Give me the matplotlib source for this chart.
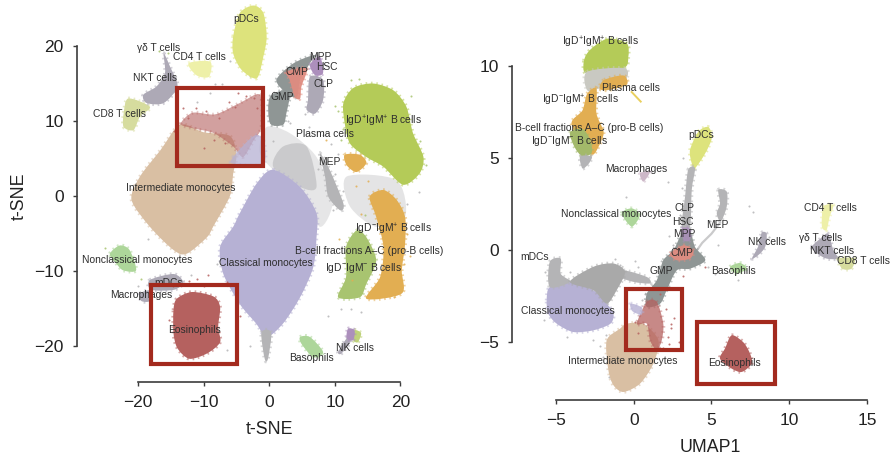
import matplotlib
matplotlib.use("Agg")
import matplotlib.pyplot as plt
from matplotlib.path import Path
from matplotlib.patches import PathPatch, Rectangle

plt.rcParams['font.family'] = ['Liberation Sans', 'DejaVu Sans']
plt.rcParams['mathtext.fontset'] = 'custom'
plt.rcParams['mathtext.rm'] = 'Liberation Sans'
plt.rcParams['mathtext.default'] = 'regular'

# ---------- t-SNE cluster outlines ----------
t_haze_centre = [(-.4,9.2),(3.1,8.4),(7.2,5.2),(9.7,-.5),(7.7,-4.1),(4.7,1.2),(.6,3.5),(-1.5,6)]
t_haze_b = [(11.8,2.6),(19.4,2.1),(20.7,-2.8),(16.3,-4.1),(12.3,-1.4)]
t_grey_centre = [(2.1,6.6),(5.7,6.6),(7.2,1.2),(4.7,1.2),(.6,3.9)]
t_intermediate = [(-13.6,9.5),(-10,8.5),(-6,8),(-5,5.5),(-5.5,3),(-6,0),(-8.5,-4),(-9.5,-5.5),(-12.6,-7.7),(-14.6,-7.2),(-18.2,-4.1),(-21,-.5),(-19.7,2.6),(-16.6,6.1)]
t_classical = [(.6,3.5),(4.7,1.2),(7.2,-2.3),(7.2,-5.5),(6.7,-9.5),(4.7,-13.5),(2.1,-17),(-.4,-18.8),(-2,-17),(-4.5,-14.4),(-7,-10.4),(-7.5,-6.8),(-5.5,-4.1),(-4.5,-2.3),(-1.9,1.7)]
t_tail = [(-1.2,-18.2),(.3,-18.2),(-.2,-21.7),(-.7,-21.7)]
t_box_red = [(-13.5,9.6),(-11.7,11.1),(-8.2,10.9),(-4.5,12.4),(-1.4,13.5),(-1.2,9.2),(-2.4,7.4),(-4,5.2),(-5.5,6.6),(-8.5,8.4),(-11.5,9)]
t_box_lav = [(-5.5,5.2),(-2.4,8),(-.9,7.5),(-.9,4.3),(-5.5,4.3)]
t_igd_pp = [(11.3,12.4),(12.8,14.4),(15.8,15),(18.9,14.1),(20.9,11.9),(21.9,8.4),(23.5,5.2),(22.9,3),(20.4,1.5),(17.4,3.9),(14.8,5.2),(12.3,7),(11.5,9.7)]
t_igd_mp = [(15.3,-.1),(17.4,.8),(19.4,-.5),(20.7,-2.8),(20.7,-6.4),(20.2,-9.9),(20.2,-13),(14.8,-13.7),(16.9,-10.8),(17.4,-6.8),(16.3,-2.8)]
t_orange_small = [(11.5,5.5),(13.8,5.5),(14.8,4.4),(13.3,3.2),(11.8,4.1)]
t_igd_mm = [(13.3,-4.6),(14.8,-5.5),(16.3,-8.6),(14.8,-11.7),(13.8,-13.5),(10.5,-13.5),(11.7,-10.8),(11.7,-6.8)]
t_pdc = [(-5.5,21.3),(-4.5,24.4),(-2.4,25.4),(-.9,24.4),(-.4,21.2),(-.9,18.6),(-1.9,15.7),(-4.2,16.8),(-5.5,19)]
t_cd4 = [(-12.3,17.7),(-9,17.9),(-9.2,15.9),(-11.1,16.1)]
t_cd8 = [(-21.5,13),(-18.2,11.9),(-19.7,10.6),(-20.7,8.8),(-22.2,9.2),(-22.2,11)]
t_nkt = [(-16.1,19),(-15.1,17.2),(-14,14.6),(-16.1,12.4),(-18.7,12.4),(-19.2,13.5),(-17.2,14.6),(-15.9,16.4)]
t_gmp = [(.1,13.2),(3.1,14.1),(2.6,11),(2.1,9.5),(.1,9.7)]
t_cmp_grey = [(1.1,15.5),(3.7,17.7),(6.9,18.8),(6.2,17.7),(4.7,15.5),(4.2,13.2),(2.6,13.7)]
t_cmp = [(2.6,16.6),(5.7,17),(4.9,14.6),(4.7,13),(3.9,13.2),(3.1,15.5)]
t_mpp = [(6.2,17.5),(7.7,18.6),(8.2,16.4),(7,16.1)]
t_clp = [(6.2,15.9),(8.2,15.5),(8.2,12.8),(7,11),(5.7,11.5),(5.9,12.8)]
t_mep = [(7.7,5.7),(9.2,3.5),(11.3,-1),(10.8,-1.9),(9,-.1),(8.5,2.6)]
t_nonclassical = [(-24.3,-7.7),(-22.8,-6.6),(-21.3,-7.2),(-20.3,-9.9),(-22.3,-9.9),(-23.5,-8.8)]
t_mdc = [(-18.2,-11.2),(-14.6,-10.4),(-13.1,-11.5),(-14.5,-12.5),(-18,-12.5)]
t_macrophage = [(-19.7,-13),(-18.2,-12.6),(-18.2,-14),(-19.5,-14)]
t_eos = [(-14.6,-15.2),(-14.1,-13.7),(-11.8,-12.8),(-8.5,-13.4),(-7.5,-14.8),(-7.8,-17.5),(-7.5,-19.5),(-9.5,-21),(-12.2,-21.7),(-14,-20.3),(-14.6,-18.3)]
t_baso = [(4.7,-18.8),(6.2,-18.8),(8.2,-20.8),(6.7,-21.5),(4.9,-19.7)]
t_nk_purple = [(12,-17.7),(13,-17.9),(12.8,-19.2),(11.8,-19)]
t_nk_green = [(13,-17.9),(14,-18.3),(13.5,-19.5),(12.8,-19.2)]
t_nk_grey = [(10.5,-20.8),(11.8,-19),(12.4,-19.4),(11,-21)]
# scattered cells read by eye
t_grey_dots_x = [1.5,3.2,.5,6.1,8.2,9.4,5.5,2.8,-1,7.4,10,10.5,11.2,9.7,6.8,3.9,-3,-4.8,-7.2,-9,-11,-6,-8.3,-2.6,12.5,14,11,21,22.8,-12,-8,-16.5,-20,-18.5,-3,-6.5,9,4.5]
t_grey_dots_y = [11.5,9.7,7.3,9.2,8.2,7,11,10,12,3.6,3,5.6,.7,-1.8,-4.5,-7,16,14.5,14.9,13.7,12.6,18,15,16.8,-15,-15.5,-15,-1,.5,-10.5,-9,-11,-12,-5.7,-20,-20.5,-16,-21.8]
t_red_dots_x = [-13.2,-12.4,-11.1,-9.6,-7.7,-6.1,-5.3,-3.6,-2.4,-1.9,-1.2,-14.5,-10,-8.5,-4.7,-6.8,-12.3,-11,-9.3,-10,-6.5,-4.5,-15.3,-14.7]
t_red_dots_y = [11.7,10.4,11.8,11.3,10.4,12.6,11.9,13.3,13.1,11.7,12.9,8.7,6.4,7.5,13.7,7.1,-11.3,-11,-10.5,-12,-11.5,-16,-16.5,-12]
t_orange_dots_x = [13.2,15,20.5,21,14,19,12.6,10.6,21.5,8.7]
t_orange_dots_y = [1.3,2,-9,-5,-2.4,-13.5,-11.2,-5.7,-8,7.5]
t_green_dots_x = [10.5,10.9,11.2,12.4,23.9,23,21.6,13.7,10,14.6,-16.8,-15.5,-25,-19.5]
t_green_dots_y = [11.3,7.5,8.9,15.5,4.2,7.3,13.3,15.6,12,-2.5,19.4,19.1,-6.9,-11]

# ---------- UMAP cluster outlines ----------
u_igd_pp = [(-3.2,10.3),(-2.8,10.9),(-1.7,11.5),(-.45,11.25),(-.35,10.5),(-.66,9.9),(-3,9.6)]
u_b_grey = [(-3,9.7),(-.6,9.9),(-.56,9.26),(-2.2,8.8),(-3,8.7)]
u_orange_top = [(-1.9,9.26),(-.66,9.5),(-.45,9),(-1.7,8.7),(-2.2,8.8)]
u_igd_mp = [(-3,8.5),(-2.4,8.8),(-2.4,7.45),(-1.95,6.5),(-2.06,6),(-2.6,5.2),(-3.2,5.6),(-4,6.9),(-3.3,7.6)]
u_igd_mm = [(-4.1,6.4),(-3.3,6.6),(-2.8,6),(-2.7,5.3),(-3.3,5.1),(-3.8,5.6)]
u_b_tail = [(-3.45,5.1),(-2.7,5.1),(-2.9,4.7),(-3.3,4.45)]
u_pdc = [(4.16,6.45),(4.8,6.7),(5.02,6.1),(4.6,5.27),(3.94,4.46),(3.73,4.73),(3.62,5.45)]
u_strand = [(3.5,4.37),(3.94,4.46),(3.73,3.28),(3.62,1.29),(3.09,1.29),(3.3,2.9)]
u_macrophage = [(.4,4.18),(1.05,4.28),(.62,3.73)]
u_mep = [(5.44,3.28),(5.98,3.19),(5.98,2.37),(5.6,1.56),(5.34,2),(5.55,2.55)]
u_cd4 = [(12.2,2.37),(12.84,2.46),(12.6,1.83),(12.4,1.1),(12.1,1.3)]
u_nonclassical = [(-.77,2.01),(-.13,2.28),(.4,1.92),(-.13,1.29)]
u_nk = [(8.23,.95),(8.55,.9),(8.45,.18),(8,-.27),(7.6,-.45),(8,.2)]
u_baso = [(6.2,-.9),(6.84,-.69),(7.27,-1),(6.6,-1.27)]
u_nkt = [(11.45,.18),(12,.63),(12.5,.9),(12.84,0),(13.16,-.45),(12.4,-.45),(11.8,-.18)]
u_cd8 = [(13.16,-.45),(14.2,-.45),(14,-1),(13.4,-1)]
u_centre = [(1.9,-.54),(2.55,0),(3.09,.9),(3.62,1.09),(3.94,.18),(4.6,-.54),(3.62,-1),(2.77,-1.09),(2.12,-2.17),(1.7,-2.9),(.84,-3.08),(.84,-2.35),(1.48,-1.63)]
u_link = [(-.66,-1.09),(.84,-1.45),(1.05,-1.8),(0,-1.72),(-.88,-1.45)]
u_cmp = [(2.34,-.18),(3.19,.27),(3.84,0),(3.62,-.45),(2.77,-.54)]
u_mpp = [(3.09,1.18),(3.62,1.18),(3.62,.55),(3.2,.55)]
u_classical = [(-5.6,-2.72),(-5.4,-2),(-4.1,-1.72),(-2.6,-2.17),(-1.74,-2.9),(-1.3,-3.44),(-1.5,-3.99),(-2.6,-4.35),(-3.9,-4.44),(-4.95,-3.99),(-5.5,-3.44)]
u_mdc = [(-5.4,-.63),(-4.7,-.45),(-4.7,-1.27),(-4.1,-1.72),(-5.4,-2)]
u_grey = [(-4.1,-1.72),(-2.6,-.9),(-1.3,-.72),(-.56,-1.18),(-1.1,-2.17),(-1.74,-2.9),(-2.6,-2.17)]
u_intermediate = [(-1.74,-4.9),(-.88,-4.26),(-.45,-3.99),(.62,-3.99),(1.59,-4.9),(1.26,-6.16),(.4,-7.25),(-.66,-7.7),(-1.3,-7.34),(-1.63,-6.52)]
u_red = [(.84,-2.8),(1.48,-2.8),(1.9,-3.99),(1.8,-4.9),(1.48,-5.43),(1.05,-4.9),(.84,-3.99),(.2,-3.99)]
u_lav = [(-.2,-2.9),(.5,-3.1),(.5,-3.5),(-.1,-3.3)]
u_eos = [(6.3,-4.62),(7.05,-5),(7.48,-5.62),(7.59,-6.16),(6.95,-6.61),(6.3,-6.43),(5.55,-5.89),(5.87,-5.34)]
u_plasma_x = [-.13,.45]
u_plasma_y = [8.6,8.08]
u_mep_strand_x = [5.55,5,4.4,3.9]
u_mep_strand_y = [1.5,.9,.4,-.2]
u_grey_dots_x = [-.9,-1.2,-1.8,-2.2,-2.6,.3,.7,1.2,2.3,2.5,4.8,5.2,5.4,3,2.2,-.5,.1,-5.7,-5.8,-1.6,-2,.5,7.4,7.7,8.7,10.9,11.2,4.9,3.2,-4.3,-4.1,6.7,3.1]
u_grey_dots_y = [-.8,-.5,-4.6,-5.2,-4.9,-.9,-2.4,-2.1,.8,.3,-.9,-1.3,.3,1.9,3.7,2.9,-.6,-1.2,-3.8,-6.9,-5.8,-2.7,2.4,2.1,.7,.8,.7,1.6,5,-4.7,-1.2,-1.6,3.4]
u_red_dots_x = [2.1,2.4,2.2,1.9,.3,.1,1.7,2.9,3.2,4.6,2.4,2.6,2.3]
u_red_dots_y = [-3.2,-4.2,-4.7,-5.3,-4.5,-3.9,-2.4,-5,-1.4,-.9,-4,-3.7,-5.1]

# ---------- labels ----------
IPP = r'IgD$^{+}$IgM$^{+}$ B cells'
IMP = r'IgD$^{-}$IgM$^{+}$ B cells'
IMM = r'IgD$^{-}$IgM$^{-}$ B cells'
PROB = 'B-cell fractions A\u2013C (pro-B cells)'
t_labels = ['pDCs','\u03b3\u03b4 T cells','CD4 T cells','NKT cells','CD8 T cells','MPP','HSC','CMP','CLP','GMP',IPP,'Plasma cells','MEP','Intermediate monocytes',IMP,PROB,IMM,'Nonclassical monocytes','Classical monocytes','mDCs','Macrophages','Eosinophils','NK cells','Basophils']
t_label_x = [-3.6,-16.8,-10.7,-17.4,-22.8,7.8,8.8,4.2,8.3,2,17.4,8.5,9.2,-13.5,18.9,15.2,14.3,-20.1,-.5,-15.4,-19.5,-11.4,13,6.5]
t_label_y = [23.6,19.8,18.5,15.8,11,18.5,17.2,16.6,14.9,13.2,9.9,8.3,4.5,1.1,-4.5,-7.3,-9.6,-8.5,-8.9,-11.6,-13.2,-17.8,-20.2,-21.6]
u_labels = [IPP,'Plasma cells',IMP,PROB,IMM,'pDCs','Macrophages','CD4 T cells','CLP','Nonclassical monocytes','HSC','MEP','MPP','\u03b3\u03b4 T cells','NK cells','CMP','NKT cells','CD8 T cells','mDCs','GMP','Basophils','Classical monocytes','Intermediate monocytes','Eosinophils']
u_label_x = [-2.17,-.17,-3.45,-2.87,-4.14,4.33,.19,12.67,3.24,-1.14,3.19,5.4,3.26,12.03,8.55,3.09,12.73,14.77,-6.39,1.74,6.41,-4.24,-.69,6.47]
u_label_y = [11.3,8.84,8.17,6.67,5.94,6.29,4.42,2.28,2.28,1.97,1.54,1.39,.87,.69,.45,-.13,-.05,-.6,-.36,-1.12,-1.14,-3.32,-6.01,-6.1]

t_xticks = [-20,-10,0,10,20]
t_yticks = [-20,-10,0,10,20]
u_xticks = [-5,0,5,10,15]
u_yticks = [-5,0,5,10]
t_boxes = [(-14,4,13.1,10.4),(-18,-22.4,13.1,10.5)]
u_boxes = [(-.51,-5.43,3.64,3.35),(4.07,-7.25,5.04,3.34)]

TAN,LAV,RED,GREEN,ORANGE,LOWG = '#D9BFA3','#B6B1D4','#B5615F','#B4CB58','#E2AE52','#A8C470'
YEL,PALE,GREY,DGREY,MID,SALMON,PURPLE,LGREEN = '#DDE37C','#EEF0A8','#B4B4B6','#8F9695','#ADA9B6','#E08C80','#AC8FBC','#ADD69A'
BOXC = '#A32A1E'
TXT = '#2E2E2E'
AXC = '#3C3C3C'

W, H = 891, 457
fig = plt.figure(figsize=(W/100, H/100), dpi=100)

def make_ax(px0, px1, py_bottom, py_top, xlim, ylim):
    ax = fig.add_axes([px0/W, 1-py_bottom/H, (px1-px0)/W, (py_bottom-py_top)/H])
    ax.set_xlim(*xlim); ax.set_ylim(*ylim)
    ax.patch.set_alpha(0)
    for s in ['top','right']:
        ax.spines[s].set_visible(False)
    return ax

def blob(ax, pts, color, alpha=1.0, halo=True, z=2):
    # smooth closed outline passing through the read vertices
    n = len(pts)
    verts = [pts[0]]; codes = [Path.MOVETO]
    k = 1/7.0
    for i in range(n):
        p0, p1, p2, p3 = pts[i-1], pts[i], pts[(i+1) % n], pts[(i+2) % n]
        verts += [(p1[0]+(p2[0]-p0[0])*k, p1[1]+(p2[1]-p0[1])*k),
                  (p2[0]-(p3[0]-p1[0])*k, p2[1]-(p3[1]-p1[1])*k), p2]
        codes += [Path.CURVE4]*3
    p = Path(verts, codes)
    if halo:
        ax.add_patch(PathPatch(p, fc='none', ec=color, lw=2.6, ls=(0, (.45, 1.0)), alpha=.55*alpha, zorder=z, clip_on=False))
    ax.add_patch(PathPatch(p, fc=color, ec='none', alpha=alpha, zorder=z, clip_on=False))

def dots(ax, x, y, color, z=3):
    ax.scatter(x, y, s=2.2, c=color, linewidths=0, alpha=.85, zorder=z, clip_on=False)

def finish(ax, xt, yt, labels, lx, ly, boxes):
    for s, t in zip(labels, zip(lx, ly)):
        ax.text(t[0], t[1], s, fontsize=7.4, color=TXT, ha='center', va='center', zorder=4, clip_on=False)
    for (x, y, w, h) in boxes:
        ax.add_patch(Rectangle((x, y), w, h, fc='none', ec=BOXC, lw=3.0, zorder=5, clip_on=False, joinstyle='miter'))
    ax.set_xticks(xt); ax.set_yticks(yt)
    ax.set_xticklabels([str(v).replace('-', '\u2212') for v in xt])
    ax.set_yticklabels([str(v).replace('-', '\u2212') for v in yt])
    ax.spines['left'].set_bounds(min(yt), max(yt))
    ax.spines['bottom'].set_bounds(min(xt), max(xt))
    for s in ['left','bottom']:
        ax.spines[s].set_linewidth(1.2); ax.spines[s].set_color(AXC)
    ax.tick_params(length=3.2, width=1.0, color=AXC, labelsize=12.5, labelcolor='#222222')
    ax.tick_params(axis='x', pad=6.5)
    ax.tick_params(axis='y', pad=6.5)

# ---------- left panel ----------
ax1 = make_ax(77, 430, 382, 5, (-29.31, 24.5), (-24.8, 25.47))
for pts, c, a in [(t_haze_centre, GREY, .32), (t_haze_b, GREY, .35), (t_grey_centre, GREY, .55)]:
    blob(ax1, pts, c, a, halo=False, z=1)
for pts, c in [(t_intermediate, TAN), (t_classical, LAV), (t_tail, GREY), (t_igd_pp, GREEN), (t_igd_mp, ORANGE),
               (t_orange_small, ORANGE), (t_igd_mm, LOWG), (t_pdc, YEL), (t_cd4, PALE), (t_cd8, '#D6DC9E'),
               (t_nkt, MID), (t_cmp_grey, DGREY), (t_gmp, DGREY), (t_clp, MID), (t_mep, GREY), (t_nonclassical, LGREEN),
               (t_mdc, MID), (t_macrophage, MID), (t_eos, RED), (t_baso, LGREEN), (t_nk_green, '#BFD27A'), (t_nk_grey, MID)]:
    blob(ax1, pts, c)
for pts, c, a in [(t_box_red, RED, .6), (t_box_lav, LAV, .75), (t_cmp, SALMON, .95), (t_mpp, PURPLE, 1), (t_nk_purple, PURPLE, 1)]:
    blob(ax1, pts, c, a, z=3)
dots(ax1, t_grey_dots_x, t_grey_dots_y, GREY, z=1.5)
dots(ax1, t_red_dots_x, t_red_dots_y, RED)
dots(ax1, t_orange_dots_x, t_orange_dots_y, ORANGE)
dots(ax1, t_green_dots_x, t_green_dots_y, LOWG)
finish(ax1, t_xticks, t_yticks, t_labels, t_label_x, t_label_y, t_boxes)
ax1.set_xlabel('t-SNE', fontsize=12.8, color='#222222', va='center')
ax1.set_ylabel('t-SNE', fontsize=12.8, color='#222222', va='center')
ax1.xaxis.set_label_coords(.545, -.125)
ax1.yaxis.set_label_coords(-.164, .493)

# ---------- right panel ----------
ax2 = make_ax(512.3, 885, 399.7, 5, (-7.81, 16.16), (-8.12, 13.33))
ax2.plot(u_plasma_x, u_plasma_y, color='#E9CF5E', lw=1.4, zorder=2)
ax2.plot(u_mep_strand_x, u_mep_strand_y, color=GREY, lw=1.6, alpha=.7, zorder=1)
for pts, c in [(u_igd_pp, GREEN), (u_b_grey, '#C9C9C2'), (u_orange_top, ORANGE), (u_igd_mp, ORANGE), (u_igd_mm, '#A3B96A'),
               (u_b_tail, GREY), (u_pdc, YEL), (u_strand, GREY), (u_macrophage, '#CDB8C8'), (u_mep, GREY), (u_cd4, PALE),
               (u_nonclassical, LGREEN), (u_nk, MID), (u_baso, LGREEN), (u_nkt, MID), (u_cd8, '#D6DC9E'), (u_centre, DGREY),
               (u_link, GREY), (u_classical, LAV), (u_mdc, GREY), (u_grey, '#A9A9A9'), (u_intermediate, TAN), (u_eos, RED)]:
    blob(ax2, pts, c)
for pts, c, a in [(u_red, RED, .75), (u_lav, LAV, .8), (u_cmp, SALMON, .95), (u_mpp, PURPLE, .8)]:
    blob(ax2, pts, c, a, z=3)
dots(ax2, u_grey_dots_x, u_grey_dots_y, GREY, z=1.5)
dots(ax2, u_red_dots_x, u_red_dots_y, RED)
finish(ax2, u_xticks, u_yticks, u_labels, u_label_x, u_label_y, u_boxes)
ax2.set_xlabel('UMAP1', fontsize=12.8, color='#222222', va='center')
ax2.xaxis.set_label_coords(.532, -.12)

fig.savefig('out.png', dpi=100)
